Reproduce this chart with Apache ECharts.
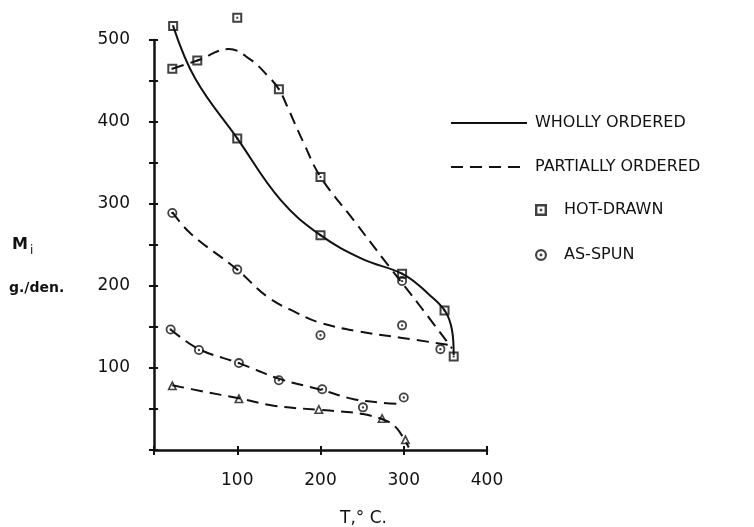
<!DOCTYPE html>
<html>
<head>
    <meta charset="utf-8">
    <title>Mi vs T</title>
    <script src="https://cdn.jsdelivr.net/npm/echarts@6/dist/echarts.min.js"></script>
</head>
<body style="margin:0;background:#fff;">
<div id="main" style="width: 754px;height:527px;"></div>
<script type="text/javascript">
    // values: [T (deg C), Mi (g./den.)]
    var wholly = [[23, 517], [50, 452], [100, 380], [152, 305], [200, 262], [250, 233], [300, 214], [330, 190], [350, 169], [358, 146], [360, 116]];
    var partialHot = [[22, 465], [52, 475], [90, 489], [116, 476], [136, 457], [150, 440], [160, 419], [180, 374], [200, 333], [240, 280], [280, 227], [320, 175], [358, 124]];
    var partialSpunHigh = [[22, 290], [44, 264], [100, 220], [136, 187], [172, 167], [200, 155], [244, 145], [296, 137], [356, 128]];
    var partialSpunLow = [[20, 147], [54, 123], [102, 106], [150, 87], [202, 73], [240, 62], [270, 58], [298, 56]];
    var partialTri = [[22, 79], [56, 72], [102, 63], [144, 54], [198, 49], [224, 47], [250, 44], [278, 36], [292, 26], [306, 3]];

    var hotDrawn = [[23, 517], [100, 527], [22, 465], [52, 475], [150, 440], [100, 380], [200, 333], [200, 262], [298, 215], [349, 170], [360, 114]];
    var asSpun = [[22, 289], [100, 220], [200, 140], [298, 152], [344, 123], [298, 206], [20, 147], [54, 122], [102, 106], [150, 85], [202, 74], [251, 52], [300, 64]];
    var triangles = [[22, 79], [102, 63], [198, 50], [274, 39], [302, 13]];

    var xTicks = [100, 200, 300, 400];
    var yTicks = [100, 200, 300, 400, 500];

    var ink = '#111';
    var font = 'DejaVu Sans';

    // square / circle / triangle with a hole and a centre dot
    var squareSym = 'path://M0,0H10V10H0ZM2,2V8H8V2ZM4,4H6V6H4Z';
    var circleSym = 'path://M5,0A5,5,0,1,1,5,10A5,5,0,1,1,5,0ZM5,1.8A3.2,3.2,0,1,0,5,8.2A3.2,3.2,0,1,0,5,1.8ZM5,3.8A1.2,1.2,0,1,1,5,6.2A1.2,1.2,0,1,1,5,3.8Z';
    var triSym = 'path://M5,0L10,9H0ZM5,3.2L2.6,7.6H7.4Z';

    var myChart = echarts.init(document.getElementById('main'));

    function dashed(data) {
        return {
            name: 'PARTIALLY ORDERED',
            type: 'line',
            smooth: 0.4,
            symbol: 'none',
            clip: false,
            data: data,
            lineStyle: {color: ink, width: 2, type: [12, 7]},
            itemStyle: {color: ink}
        };
    }
    function marks(name, data, sym, size) {
        return {
            name: name,
            type: 'scatter',
            symbol: sym,
            symbolSize: size,
            clip: false,
            z: 5,
            data: data,
            itemStyle: {color: ink}
        };
    }

    var tickStyle = {color: ink, width: 2};

    myChart.setOption({
        animation: false,
        backgroundColor: '#fff',
        grid: {left: 154, right: 267, top: 40, bottom: 77},
        xAxis: [{
            type: 'value', min: 0, max: 400, interval: 100, position: 'bottom',
            axisLine: {lineStyle: {color: ink, width: 2.5}},
            axisTick: {length: 5, lineStyle: tickStyle},
            splitLine: {show: false},
            axisLabel: {
                margin: 22, color: ink, fontFamily: font, fontSize: 17,
                formatter: function (v) { return xTicks.indexOf(v) >= 0 ? String(v) : ''; }
            }
        }, {
            type: 'value', min: 0, max: 400, interval: 100, position: 'bottom',
            axisLine: {show: false},
            axisTick: {inside: true, length: 4, lineStyle: tickStyle},
            axisLabel: {show: false}, splitLine: {show: false}
        }],
        yAxis: [{
            type: 'value', min: 0, max: 500, interval: 50, position: 'left',
            axisLine: {lineStyle: {color: ink, width: 2.5}},
            axisTick: {length: 5, lineStyle: tickStyle},
            splitLine: {show: false},
            axisLabel: {
                margin: 24, color: ink, fontFamily: font, fontSize: 17,
                formatter: function (v) { return yTicks.indexOf(v) >= 0 ? String(v) : ''; }
            }
        }, {
            type: 'value', min: 0, max: 500, interval: 50, position: 'left',
            axisLine: {show: false},
            axisTick: {inside: true, length: 4, lineStyle: tickStyle},
            axisLabel: {show: false}, splitLine: {show: false}
        }],
        legend: [{
            data: ['WHOLLY ORDERED', 'PARTIALLY ORDERED'],
            orient: 'vertical', left: 445, top: 110,
            itemWidth: 76, itemHeight: 14, itemGap: 28,
            selectedMode: false,
            itemStyle: {opacity: 0},
            textStyle: {color: ink, fontFamily: font, fontSize: 16, padding: [0, 0, 0, 3]}
        }, {
            data: ['HOT-DRAWN', 'AS-SPUN'],
            orient: 'vertical', left: 530, top: 197,
            itemWidth: 12, itemHeight: 12, itemGap: 29,
            selectedMode: false,
            textStyle: {color: ink, fontFamily: font, fontSize: 16, padding: [0, 0, 0, 12]}
        }],
        graphic: [
            {type: 'text', left: 12, top: 237, style: {
                text: '{a|M}{b|i}', fill: ink,
                rich: {a: {fontFamily: font, fontSize: 16, fontWeight: 'bold', fill: ink},
                       b: {fontFamily: font, fontSize: 12, fill: ink, padding: [12, 0, 0, 2]}}
            }},
            {type: 'text', left: 9, top: 281, style: {text: 'g./den.', fill: ink, font: 'bold 14px "DejaVu Sans"'}},
            {type: 'text', left: 340, top: 510, style: {text: 'T,° C.', fill: ink, font: '17px "DejaVu Sans"'}}
        ],
        series: [
            {
                name: 'WHOLLY ORDERED',
                type: 'line',
                smooth: 0.4,
                symbol: 'none',
                clip: false,
                data: wholly,
                lineStyle: {color: ink, width: 2},
                itemStyle: {color: ink}
            },
            dashed(partialHot),
            dashed(partialSpunHigh),
            dashed(partialSpunLow),
            dashed(partialTri),
            marks('HOT-DRAWN', hotDrawn, squareSym, 10),
            marks('AS-SPUN', asSpun, circleSym, 10),
            marks('triangle', triangles, triSym, 10)
        ]
    });
</script>
</body>
</html>
